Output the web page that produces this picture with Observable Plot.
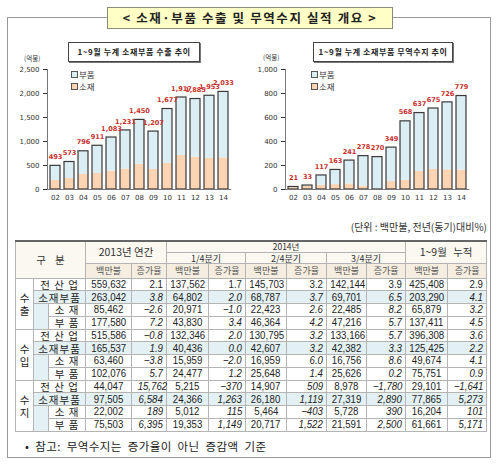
<!DOCTYPE html>
<html>
<head>
<meta charset="utf-8">
<script src="https://cdn.jsdelivr.net/npm/d3@7"></script>
<script src="https://cdn.jsdelivr.net/npm/@observablehq/plot@0.6"></script>
<style>
  html, body { margin:0; padding:0; background:#fff; }
  #root { position:relative; width:500px; height:470px; overflow:hidden; font-family:"Noto Sans CJK KR", sans-serif; color:#222; }
  .abs { position:absolute; }
  #frame { left:7px; top:17px; width:484px; height:441px; border:1px solid #999; box-sizing:border-box; }
  #title { left:107px; top:7px; width:286px; height:22px; background:#ffffc6; border:1px solid #8a8a7a; box-sizing:border-box;
           font-weight:bold; font-size:12.5px; letter-spacing:1.6px; text-align:center; line-height:20px; color:#222; }
  .ctitle { height:20px; border:1px solid #444; box-sizing:border-box; background:#fff; box-shadow:1px 1px 0 #777;
            font-weight:bold; font-size:8px; text-align:center; line-height:18px; letter-spacing:0.6px; color:#222; }
  .unit { font-size:6.5px; color:#333; }
  .leg { font-size:8.5px; color:#333; line-height:10px; white-space:nowrap; }
  .leg span.sw { display:inline-block; width:5px; height:5px; border:1px solid #555; margin-right:1px; vertical-align:middle; position:relative; top:-1px; }
  #caption { right:13px; top:219px; font-size:10px; color:#333; white-space:nowrap; }
  #tbl { left:15px; top:240px; }
  table { border-collapse:collapse; table-layout:fixed; width:471px; border-top:2px solid #666; border-bottom:1.5px solid #666; }
  td { padding:0; border:1px solid #b4b4b4; overflow:visible; white-space:nowrap; font-size:11px; line-height:11px; }
  td.hd { background:#fbf8f1; text-align:center; font-size:10px; line-height:10px; color:#333; }
  td.hd2 { background:#f5eddf; text-align:center; font-size:9px; line-height:10px; color:#555; }
  td.grp { text-align:center; font-size:10.5px; line-height:13px; background:#fff; }
  td.lab { text-align:center; font-size:10.5px; letter-spacing:1px; }
  td.ind { background:#e3f0f4; }
  td.num, td.rate { font-family:"Liberation Sans", Arial, sans-serif; font-size:11.5px; line-height:11px; }
  td.num { text-align:center; }
  td.rate { text-align:right; padding-right:3px; }
  td span.sq { display:inline-block; transform:scaleX(0.84); }
  td.num span.sq { transform-origin:50% 50%; }
  td.rate span.sq { transform-origin:100% 50%; }
  td.it { font-style:italic; }
  tr.blue td { background:#e3f0f4; }
  tr.gsep td { border-top:1px solid #777; }
  #note { left:25px; top:438px; font-size:11.5px; word-spacing:3px; letter-spacing:0.4px; color:#222; white-space:nowrap; }
</style>
</head>
<body>
<div id="root">
  <div id="frame" class="abs"></div>
  <div id="title" class="abs">&lt; 소재·부품 수출 및 무역수지 실적 개요 &gt;</div>
  <div id="chartL" class="abs" style="left:0px;top:40px;"></div>
  <div id="chartR" class="abs" style="left:250px;top:40px;"></div>
  <div class="abs ctitle" style="left:68px;top:42px;width:132px;">1~9월 누계 소재부품 수출 추이</div>
  <div class="abs ctitle" style="left:313px;top:42px;width:140px;">1~9월 누계 소재부품 무역수지 추이</div>
  <div class="abs unit" style="left:24px;top:53px;">(억불)</div>
  <div class="abs unit" style="left:263px;top:52px;">(억불)</div>
  <div class="abs leg" style="left:71px;top:69px;"><span class="sw" style="background:#dbeef4"></span>부품</div>
  <div class="abs leg" style="left:71px;top:81px;"><span class="sw" style="background:#fbd4b4"></span>소재</div>
  <div class="abs leg" style="left:311px;top:69px;"><span class="sw" style="background:#dbeef4"></span>부품</div>
  <div class="abs leg" style="left:311px;top:81px;"><span class="sw" style="background:#fbd4b4"></span>소재</div>
  <div id="caption" class="abs">(단위 : 백만불, 전년(동기)대비%)</div>
  <div id="tbl" class="abs"></div>
  <div id="note" class="abs">• 참고: 무역수지는 증가율이 아닌 증감액 기준</div>
</div>
<script>
// ---- chart data (억불) ----
const years = ["02","03","04","05","06","07","08","09","10","11","12","13","14"];
const exportTotal = [493,573,796,911,1083,1231,1450,1207,1677,1917,1885,1953,2033];
const exportMaterial = [194,229,312,333,382,425,525,417,542,708,674,646,659];
const balanceTotal = [21,33,117,163,241,278,270,349,568,637,675,726,779];
const balanceMaterial = [15,25,36,41,46,27,5,66,77,150,167,164,162];
const exportTicks = [0,500,1000,1500,2000,2500];
const balanceTicks = [0,200,400,600,800,1000];

// ---- table data ----
const groups = ["수\n출","수\n입","수\n지"];
const rowLabels = ["전 산 업","소재부품","소 재","부 품"];
const periods = ["2013년 연간","1/4분기","2/4분기","3/4분기","1~9월 누적"];
const subHeads = ["백만불","증가율"];
const val2013 = ["559,632","263,042","85,462","177,580","515,586","165,537","63,460","102,076","44,047","97,505","22,002","75,503"];
const rate2013 = ["2.1","3.8","−2.6","7.2","−0.8","1.9","−3.8","5.7","15,762","6,584","189","6,395"];
const valQ1 = ["137,562","64,802","20,971","43,830","132,346","40,436","15,959","24,477","5,215","24,366","5,012","19,353"];
const rateQ1 = ["1.7","2.0","−1.0","3.4","2.0","0.0","−2.0","1.2","−370","1,263","115","1,149"];
const valQ2 = ["145,703","68,787","22,423","46,364","130,795","42,607","16,959","25,648","14,907","26,180","5,464","20,717"];
const rateQ2 = ["3.2","3.7","2.6","4.2","3.2","3.2","6.0","1.4","509","1,119","−403","1,522"];
const valQ3 = ["142,144","69,701","22,485","47,216","133,166","42,382","16,756","25,626","8,978","27,319","5,728","21,591"];
const rateQ3 = ["3.9","6.5","8.2","5.7","5.7","3.3","8.6","0.2","−1,780","2,890","390","2,500"];
const valCum = ["425,408","203,290","65,879","137,411","396,308","125,425","49,674","75,751","29,101","77,865","16,204","61,661"];
const rateCum = ["2.9","4.1","3.2","4.5","3.6","2.2","4.1","0.9","−1,641","5,273","101","5,171"];

const fmt = d3.format(",");

function makeChart(totals, materials, yMax, ticks, marginLeft, marginRight) {
  const rows = years.map((y, i) => ({year: y, total: totals[i], material: materials[i]}));
  return Plot.plot({
    width: 245, height: 170,
    marginTop: 29, marginBottom: 21, marginLeft, marginRight,
    style: {fontFamily: "DejaVu Sans", fontSize: "7px", color: "#333", background: "transparent", overflow: "visible"},
    x: {type: "band", domain: years, paddingInner: 0.3, paddingOuter: 0.16, label: null, tickSize: 0, tickPadding: 6},
    y: {domain: [0, yMax], ticks, tickFormat: fmt, label: null, tickSize: 4, tickPadding: 4},
    marks: [
      Plot.barY(rows, {x: "year", y1: 0, y2: "material", fill: "#fbd4b4"}),
      Plot.barY(rows, {x: "year", y1: "material", y2: "total", fill: "#dbeef4"}),
      Plot.barY(rows, {x: "year", y1: 0, y2: "total", fill: "none", stroke: "#3a3a3a", strokeWidth: 1.2}),
      Plot.ruleY([0], {stroke: "#777"}),
      Plot.frame({anchor: "left", stroke: "#777"}),
      Plot.text(rows, {x: "year", y: "total", text: d => fmt(d.total), dy: -9, fill: "#c8302c", fontWeight: "bold", fontSize: 6.6})
    ]
  });
}

document.getElementById("chartL").appendChild(makeChart(exportTotal, exportMaterial, 2500, exportTicks, 47, 13.7));
document.getElementById("chartR").appendChild(makeChart(balanceTotal, balanceMaterial, 1000, balanceTicks, 35, 25.7));

// ---- table ----
const colW = [18,15,37,46,35,42,37,41,40,40,39,42,39];
const valCols = [val2013, valQ1, valQ2, valQ3, valCum];
const rateCols = [rate2013, rateQ1, rateQ2, rateQ3, rateCum];
let h = "<table><colgroup>" + colW.map(w => `<col style="width:${w}px">`).join("") + "</colgroup>";
h += `<tr style="height:11px"><td class="hd" colspan="3" rowspan="3" style="letter-spacing:9px;padding-left:9px;font-size:10.5px">구분</td>`
   + `<td class="hd" colspan="2" rowspan="2" style="font-size:10.5px">${periods[0]}</td>`
   + `<td class="hd" colspan="6" style="font-size:8.5px;line-height:9px;vertical-align:top">2014년</td>`
   + `<td class="hd" colspan="2" rowspan="2" style="word-spacing:4px;font-size:10.5px">${periods[4]}</td></tr>`;
h += `<tr style="height:11px">` + periods.slice(1,4).map(p => `<td class="hd" colspan="2" style="font-size:9px;line-height:9px;vertical-align:bottom">${p}</td>`).join("") + `</tr>`;
h += `<tr style="height:15px">` + periods.map(() => subHeads.map(s => `<td class="hd2">${s}</td>`).join("")).join("") + `</tr>`;
for (let g = 0; g < 3; g++) {
  for (let r = 0; r < 4; r++) {
    const i = g * 4 + r;
    const cls = (r === 1 ? "blue " : "") + (r === 0 && g > 0 ? "gsep" : "");
    h += `<tr class="${cls}" style="height:12.75px">`;
    if (r === 0) h += `<td class="grp" rowspan="4">${groups[g].replace("\n","<br>")}</td>`;
    if (r < 2) h += `<td class="lab" colspan="2">${rowLabels[r]}</td>`;
    else {
      if (r === 2) h += `<td class="ind" rowspan="2"></td>`;
      h += `<td class="lab">${rowLabels[r]}</td>`;
    }
    for (let c = 0; c < 5; c++) {
      h += `<td class="num"><span class="sq">${valCols[c][i]}</span></td>`;
      h += `<td class="rate${i === 0 ? "" : " it"}"><span class="sq">${rateCols[c][i]}</span></td>`;
    }
    h += `</tr>`;
  }
}
h += "</table>";
document.getElementById("tbl").innerHTML = h;
</script>
</body>
</html>
